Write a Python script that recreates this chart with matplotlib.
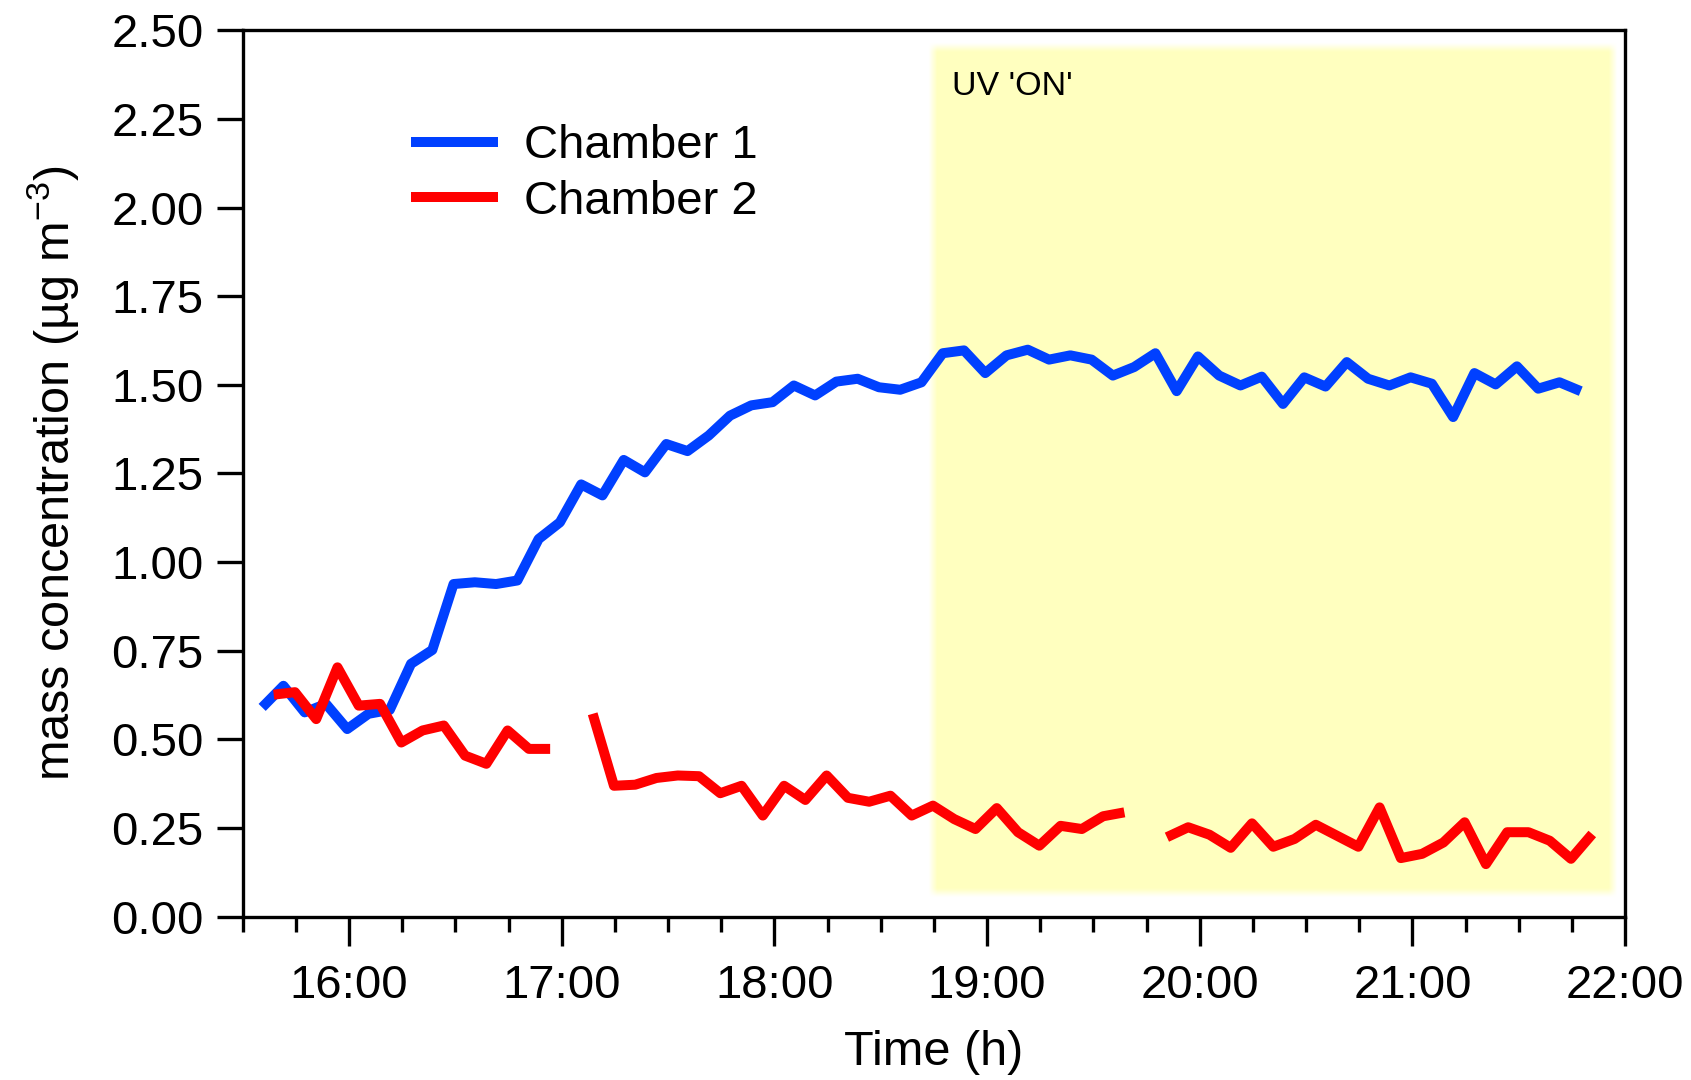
import numpy as np
import pandas as pd
import matplotlib
matplotlib.use("Agg")
import matplotlib.pyplot as plt
import matplotlib.dates as mdates

plt.rcParams['font.family'] = ['Liberation Sans', 'DejaVu Sans']
plt.rcParams['mathtext.fontset'] = 'custom'
plt.rcParams['mathtext.rm'] = 'Liberation Sans'
plt.rcParams['mathtext.it'] = 'Liberation Sans'

# SMPS mass concentration, one scan every 6 min, chambers sampled alternately
chamber1 = [0.590, 0.651, 0.576, 0.600, 0.529, 0.572, 0.583, 0.713, 0.752, 0.938,
            0.943, 0.938, 0.948, 1.065, 1.112, 1.219, 1.188, 1.288, 1.253, 1.333,
            1.313, 1.357, 1.413, 1.442, 1.451, 1.498, 1.470, 1.509, 1.517, 1.493,
            1.486, 1.507, 1.589, 1.597, 1.533, 1.583, 1.599, 1.571, 1.583, 1.571,
            1.526, 1.550, 1.589, 1.482, 1.580, 1.526, 1.498, 1.523, 1.446, 1.521,
            1.495, 1.564, 1.517, 1.498, 1.521, 1.503, 1.409, 1.533, 1.501, 1.552,
            1.489, 1.507, 1.482]

nan = np.nan
chamber2 = [0.626, 0.633, 0.557, 0.703, 0.595, 0.600, 0.491, 0.525, 0.539, 0.454,
            0.431, 0.525, 0.473, 0.473, nan, 0.572, 0.369, 0.372, 0.391, 0.398,
            0.396, 0.348, 0.369, 0.285, 0.369, 0.329, 0.398, 0.335, 0.324, 0.341,
            0.285, 0.313, 0.275, 0.247, 0.306, 0.238, 0.200, 0.256, 0.247, 0.283,
            0.294, nan, 0.224, 0.252, 0.231, 0.194, 0.263, 0.197, 0.219, 0.259,
            0.228, 0.197, 0.308, 0.165, 0.177, 0.209, 0.266, 0.148, 0.238, 0.238,
            0.214, 0.163, 0.233]

t1 = pd.date_range('2000-01-01 15:35:30', periods=len(chamber1), freq='6min')
t2 = pd.date_range('2000-01-01 15:38:45', periods=len(chamber2), freq='6min')

uv_start = pd.Timestamp('2000-01-01 18:44:36')
uv_end = pd.Timestamp('2000-01-01 21:56:36')
uv_low, uv_high = 0.065, 2.453

fig = plt.figure(figsize=(16.91, 10.80), dpi=100)
ax = fig.add_axes([0.1435, 0.1513, 0.8175, 0.8207])

# soft-edged yellow box for the UV period
x0, x1 = mdates.date2num(uv_start), mdates.date2num(uv_end)
wx = 2.4 / 1440.0
wy = 0.024
gx = np.linspace(x0 - wx, x1 + wx, 800)
gy = np.linspace(uv_low - wy, uv_high + wy, 500)
ax_ = np.clip(np.minimum(gx - x0, x1 - gx) / wx + 0.5, 0, 1)
ay_ = np.clip(np.minimum(gy - uv_low, uv_high - gy) / wy + 0.5, 0, 1)
img = np.zeros((len(gy), len(gx), 4))
img[..., 0] = 1.0
img[..., 1] = 1.0
img[..., 2] = 0.75
img[..., 3] = np.outer(ay_, ax_)
ax.imshow(img, extent=[gx[0], gx[-1], gy[0], gy[-1]], origin='lower',
          aspect='auto', interpolation='bilinear', zorder=0)
ax.text(0.513, 0.937, "UV 'ON'", transform=ax.transAxes, fontsize=24.5,
        va='center', ha='left')

line_kw = dict(lw=7.2, solid_capstyle='butt', solid_joinstyle='round', zorder=3)
ax.plot(t1, chamber1, color='#0040ff', label='Chamber 1', **line_kw)
ax.plot(t2, chamber2, color='#ff0000', label='Chamber 2', **line_kw)

ax.set_xlim(pd.Timestamp('2000-01-01 15:30'), pd.Timestamp('2000-01-01 22:00'))
ax.set_ylim(0, 2.5)
ax.set_yticks(np.arange(0, 2.51, 0.25))
ax.yaxis.set_major_formatter(matplotlib.ticker.FormatStrFormatter('%.2f'))
ax.xaxis.set_major_locator(mdates.HourLocator())
ax.xaxis.set_minor_locator(mdates.MinuteLocator(byminute=[0, 15, 30, 45]))
ax.xaxis.set_major_formatter(mdates.DateFormatter('%H:%M'))

for s in ax.spines.values():
    s.set_linewidth(2.4)
ax.tick_params(axis='both', which='major', labelsize=34, width=2.4, direction='out')
ax.tick_params(axis='x', which='major', length=21, pad=13)
ax.tick_params(axis='x', which='minor', length=11, width=2.4)
ax.tick_params(axis='y', which='major', length=19, pad=9)

ax.set_xlabel('Time (h)', fontsize=35, labelpad=16)
ax.set_ylabel('mass concentration (µg m$^{-3}$)', fontsize=35, labelpad=22)

ax.legend(loc='upper left', bbox_to_anchor=(0.1215, 0.894), frameon=False,
          fontsize=34, handlelength=1.85, handletextpad=0.55, labelspacing=0.24,
          borderpad=0, borderaxespad=0)

fig.savefig('out.png', dpi=100)
